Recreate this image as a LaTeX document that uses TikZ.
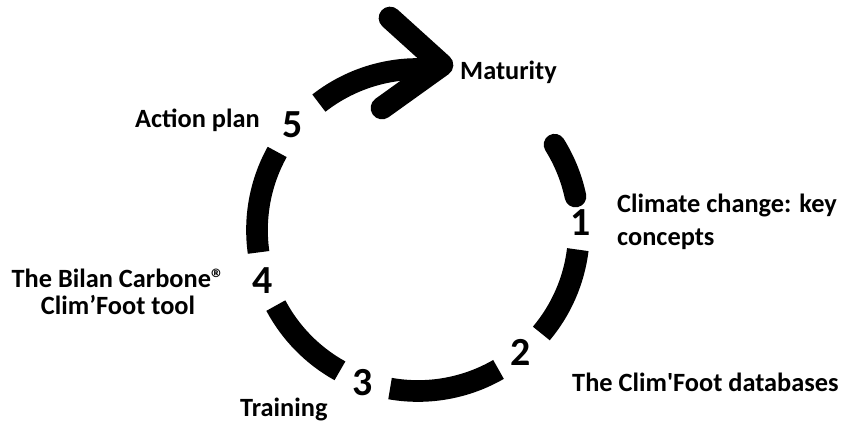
\documentclass[tikz,border=0pt]{standalone}
\usepackage{fontspec}
\newfontfamily\cfont{Carlito}
\usetikzlibrary{calc}

\begin{document}
\begin{tikzpicture}[line join=round,x=0.03cm,y=0.03cm,
    ring/.style={line width=0.65cm},
    lbl/.style={font=\cfont\fontsize{22.5}{28}\selectfont\bfseries,inner sep=0pt},
    num/.style={font=\cfont\fontsize{34}{40}\selectfont\bfseries,inner sep=0pt}]
        \useasboundingbox (0,0) rectangle (843,426);
        \coordinate (ctr) at (418,196);

        % the five steps
        \node[num] (s1) at ($(ctr)+(2.5:163)$) {1};
        \node[num] (s2) at ($(ctr)+(-50:160)$) {2};
        \node[num] (s3) at ($(ctr)+(-110:162)$) {3};
        \node[num] (s4) at ($(ctr)+(198:163)$) {4};
        \node[num] (s5) at ($(ctr)+(140:164)$) {5};

        % ring, cut at each step
        \draw [ring,line cap=round] ($(ctr)+(32:161)$) arc[start angle=32,end angle=12,radius=161];
        \draw [ring] ($(ctr)+(-7:161)$) arc[start angle=-7,end angle=-40,radius=161];
        \draw [ring] ($(ctr)+(-60:161)$) arc[start angle=-60,end angle=-100,radius=161];
        \draw [ring] ($(ctr)+(-119:161)$) arc[start angle=-119,end angle=-152,radius=161];
        \draw [ring] ($(ctr)+(188:161)$) arc[start angle=188,end angle=151,radius=161];
        \draw [ring] ($(ctr)+(128:161)$) arc[start angle=128,end angle=84,radius=161];

        % arrow head
        \coordinate (tip) at (442,361);
        \coordinate (armup) at (390,408);
        \coordinate (armdown) at (382,318);
        \draw [ring,line width=0.68cm,line cap=round] (armup) -- (tip) -- (armdown);

        % labels
        \node[lbl,anchor=base west] (mat) at (460,346) {Maturity};
        \node[lbl,anchor=base west] (act) at (135,298) {Action plan};
        \node[lbl,anchor=north west,align=left] (clim) at (617,232) {Climate change: key\\concepts};
        \node[lbl,anchor=north,align=center,font=\cfont\fontsize{22.5}{23}\selectfont\bfseries] (bilan) at (118,157) {The Bilan Carbone®\\Clim’Foot tool};
        \node[lbl,anchor=base west] (data) at (572,34) {The Clim'Foot databases};
        \node[lbl,anchor=base west] (train) at (240,9) {Training};
\end{tikzpicture}
\end{document}
